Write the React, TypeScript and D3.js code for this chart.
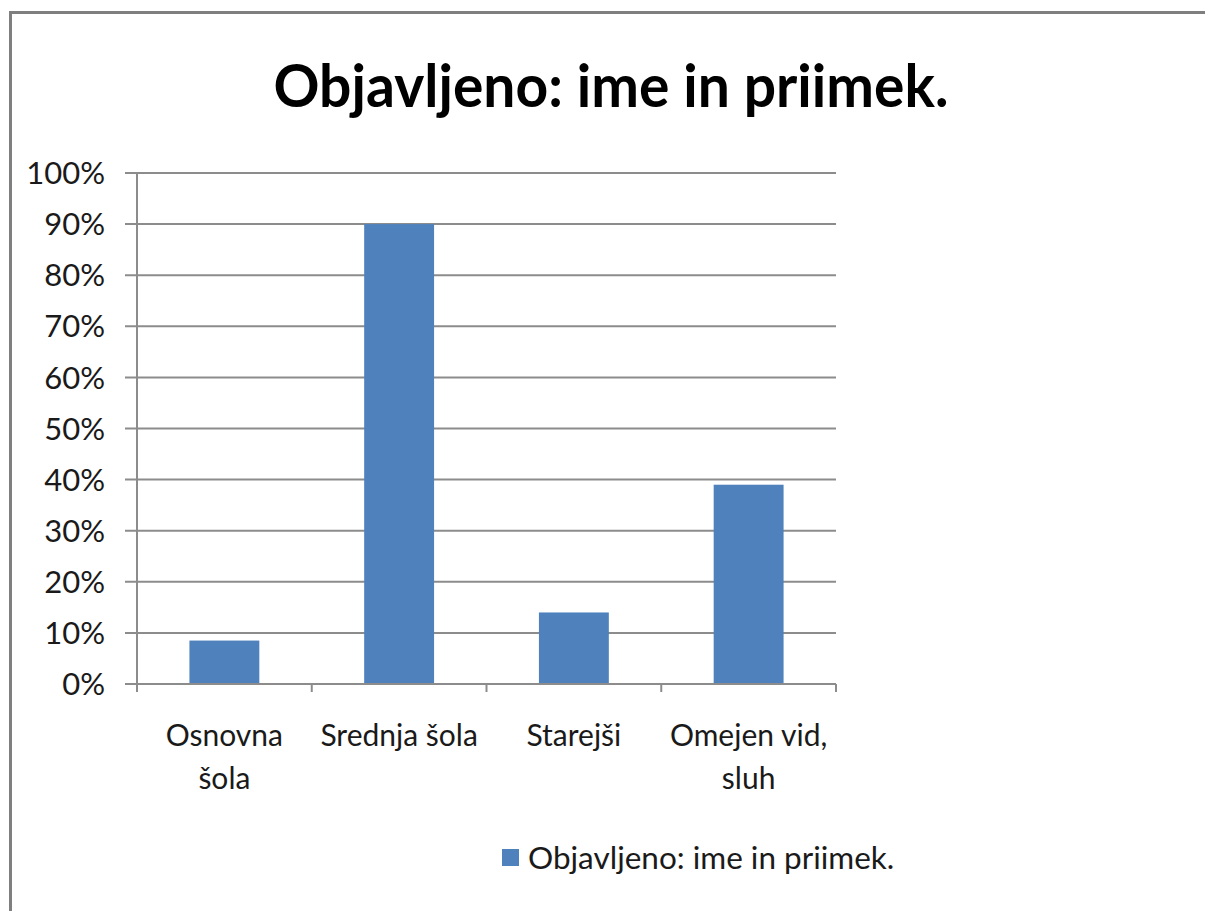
import * as d3 from 'd3';
import { useEffect, useRef } from 'react';

const width = 1205;
const height = 911;
const marginTop = 173;
const marginBottom = 227; // 0% sits at y=684
const marginLeft = 137;
const plotRight = 836;

const title = 'Objavljeno: ime in priimek.';
const seriesName = 'Objavljeno: ime in priimek.';
const categories = ['Osnovna šola', 'Srednja šola', 'Starejši', 'Omejen vid, sluh'];
const categoryLines = [['Osnovna', 'šola'], ['Srednja šola'], ['Starejši'], ['Omejen vid,', 'sluh']];
const values = [0.085, 0.9, 0.14, 0.39];
const yTicks = [0, 0.1, 0.2, 0.3, 0.4, 0.5, 0.6, 0.7, 0.8, 0.9, 1];

const barColor = '#4f81bd';
const gridColor = '#8c8c8c';
const font = 'Lato, "Open Sans", sans-serif';

export default function App() {
  const ref = useRef<HTMLDivElement>(null);

  useEffect(() => {
    if (!ref.current) return;

    const x = d3
      .scaleBand<string>()
      .domain(categories)
      .range([marginLeft, plotRight])
      .paddingInner(0.6)
      .paddingOuter(0.3);

    const y = d3
      .scaleLinear()
      .domain([0, 1])
      .range([height - marginBottom, marginTop]);

    const svg = d3
      .create('svg')
      .attr('width', width)
      .attr('height', height)
      .style('position', 'absolute')
      .style('left', 0)
      .style('top', 0)
      .style('background', '#fff');

    // okvir
    svg
      .append('rect')
      .attr('x', 10.5)
      .attr('y', 12.5)
      .attr('width', width + 20)
      .attr('height', height + 20)
      .attr('fill', 'none')
      .attr('stroke', '#7f7f7f')
      .attr('stroke-width', 3);

    // naslov
    svg
      .append('text')
      .attr('x', 611)
      .attr('y', 107)
      .attr('text-anchor', 'middle')
      .attr('font-family', font)
      .attr('font-weight', 'bold')
      .attr('font-size', 59)
      .attr('textLength', 675)
      .attr('lengthAdjust', 'spacingAndGlyphs')
      .text(title);

    // mrežne črte
    svg
      .append('g')
      .selectAll('line')
      .data(yTicks)
      .join('line')
      .attr('x1', marginLeft - 12)
      .attr('x2', plotRight)
      .attr('y1', (d) => y(d))
      .attr('y2', (d) => y(d))
      .attr('stroke', gridColor)
      .attr('stroke-width', 2);

    // oznake y
    svg
      .append('g')
      .selectAll('text')
      .data(yTicks)
      .join('text')
      .attr('x', 105)
      .attr('y', (d) => y(d))
      .attr('dy', '0.36em')
      .attr('text-anchor', 'end')
      .attr('font-family', font)
      .attr('font-size', 31)
      .attr('fill', '#1a1a1a')
      .text((d) => d3.format('.0%')(d));

    // stolpci
    svg
      .append('g')
      .selectAll('rect')
      .data(values)
      .join('rect')
      .attr('x', (_, i) => x(categories[i])!)
      .attr('width', x.bandwidth())
      .attr('y', (d) => y(d))
      .attr('height', (d) => y(0) - y(d))
      .attr('fill', barColor);

    // osi
    svg
      .append('line')
      .attr('x1', marginLeft)
      .attr('x2', marginLeft)
      .attr('y1', y(1))
      .attr('y2', y(0) + 8)
      .attr('stroke', gridColor)
      .attr('stroke-width', 2);

    svg
      .append('line')
      .attr('x1', marginLeft - 12)
      .attr('x2', plotRight)
      .attr('y1', y(0))
      .attr('y2', y(0))
      .attr('stroke', gridColor)
      .attr('stroke-width', 2);

    // kljukice kategorij
    const step = x.step();
    const edges = categories.map((c) => x(c)! - (step - x.bandwidth()) / 2).concat([plotRight]);
    svg
      .append('g')
      .selectAll('line')
      .data(edges)
      .join('line')
      .attr('x1', (d) => d)
      .attr('x2', (d) => d)
      .attr('y1', y(0))
      .attr('y2', y(0) + 8)
      .attr('stroke', gridColor)
      .attr('stroke-width', 2);

    // oznake kategorij
    const labels = svg
      .append('g')
      .selectAll('text')
      .data(categories)
      .join('text')
      .attr('x', (d) => x(d)! + x.bandwidth() / 2)
      .attr('y', 746)
      .attr('text-anchor', 'middle')
      .attr('font-family', font)
      .attr('font-size', 30)
      .attr('fill', '#1a1a1a');
    labels
      .selectAll('tspan')
      .data((_, i) => categoryLines[i])
      .join('tspan')
      .attr('x', function () {
        return (this.parentNode as SVGTextElement).getAttribute('x');
      })
      .attr('dy', (_, j) => (j === 0 ? 0 : 43))
      .text((d) => d);

    // legenda
    const legend = svg.append('g').attr('transform', 'translate(502,849)');
    legend.append('rect').attr('width', 17).attr('height', 17).attr('fill', barColor);
    legend
      .append('text')
      .attr('x', 26)
      .attr('y', 20)
      .attr('font-family', font)
      .attr('font-size', 31.5)
      .attr('fill', '#1a1a1a')
      .text(seriesName);

    ref.current.innerHTML = '';
    ref.current.appendChild(svg.node()!);
  }, [ref]);

  return <div ref={ref} />;
}
